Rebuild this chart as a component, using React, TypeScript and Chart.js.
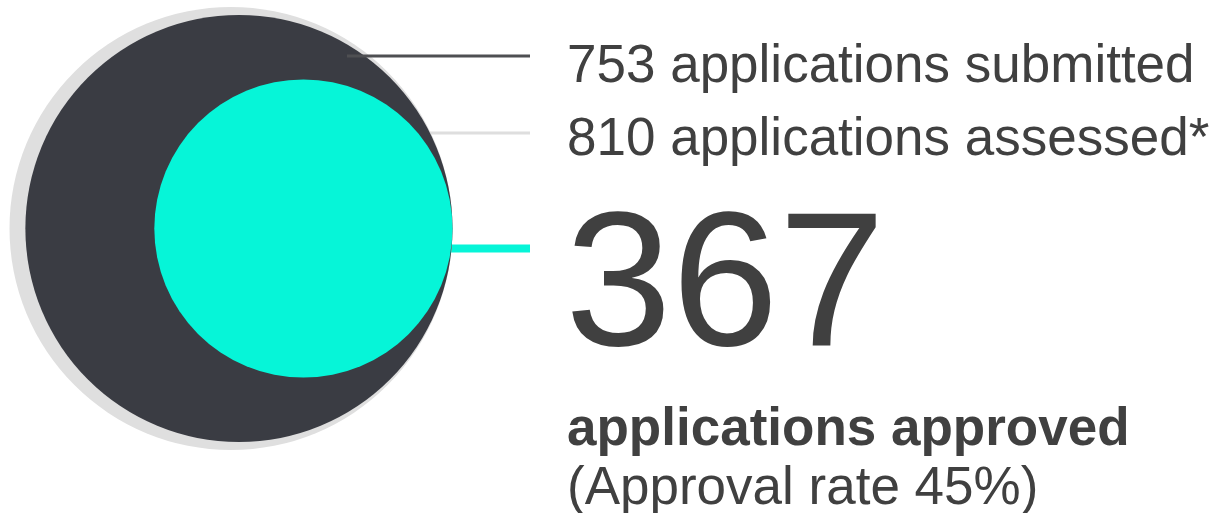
import React, { useEffect, useRef } from "react";
import { Chart, registerables } from "chart.js";

Chart.register(...registerables);

// ---- data ----
const categories = ["applications assessed*", "applications submitted", "applications approved"];
const values = [810, 753, 367];
const colors = ["#dfdfdf", "#3a3c43", "#06f5d8"];
const headline = "367";
const approvedLabel = "applications approved";
const rateLabel = "(Approval rate 45%)";

// ---- layout (pixel scale units) ----
const W = 1220;
const H = 513;
const MAX_RADIUS = 221.5;
const RIGHT_EDGE = 452.5;
const CENTER_Y = 228.5;
const TEXT_X = 567;
const LINE_END_X = 530;
const TEXT_COLOR = "#404040";
const FONT = "'Liberation Sans', Arial, Helvetica, sans-serif";

const maxValue = Math.max(...values);
const radii = values.map((v) => MAX_RADIUS * Math.sqrt(v / maxValue));

const bubbleData = values.map((v, i) => ({
  x: RIGHT_EDGE - radii[i],
  y: CENTER_Y,
  r: radii[i],
}));

const labelsPlugin = {
  id: "labelsPlugin",
  beforeDatasetsDraw(chart: any) {
    const ctx = chart.ctx;
    const xs = chart.scales.x;
    const ys = chart.scales.y;
    ctx.save();
    ctx.lineCap = "butt";
    // assessed leader (light grey)
    ctx.strokeStyle = "#dedede";
    ctx.lineWidth = 3;
    ctx.beginPath();
    ctx.moveTo(xs.getPixelForValue(400), ys.getPixelForValue(133));
    ctx.lineTo(xs.getPixelForValue(LINE_END_X), ys.getPixelForValue(133));
    ctx.stroke();
    // approved leader (cyan)
    ctx.strokeStyle = colors[2];
    ctx.lineWidth = 8;
    ctx.beginPath();
    ctx.moveTo(xs.getPixelForValue(400), ys.getPixelForValue(248.5));
    ctx.lineTo(xs.getPixelForValue(LINE_END_X), ys.getPixelForValue(248.5));
    ctx.stroke();
    ctx.restore();
  },
  afterDatasetsDraw(chart: any) {
    const ctx = chart.ctx;
    const xs = chart.scales.x;
    const ys = chart.scales.y;
    ctx.save();
    // submitted leader (dark)
    ctx.strokeStyle = "#4e4f52";
    ctx.lineWidth = 3;
    ctx.beginPath();
    ctx.moveTo(xs.getPixelForValue(347), ys.getPixelForValue(56));
    ctx.lineTo(xs.getPixelForValue(LINE_END_X), ys.getPixelForValue(56));
    ctx.stroke();

    ctx.fillStyle = TEXT_COLOR;
    ctx.textAlign = "left";
    ctx.textBaseline = "alphabetic";
    ctx.font = `53px ${FONT}`;
    ctx.fillText(`${values[1]} ${categories[1]}`, TEXT_X, 81.5);
    ctx.fillText(`${values[0]} ${categories[0]}`, TEXT_X, 155);
    ctx.font = `192px ${FONT}`;
    ctx.fillText(headline, TEXT_X - 2, 345);
    ctx.font = `bold 53px ${FONT}`;
    ctx.fillText(approvedLabel, TEXT_X, 445);
    ctx.font = `53px ${FONT}`;
    ctx.fillText(rateLabel, TEXT_X, 504);
    ctx.restore();
  },
};

export default function App() {
  const canvasRef = useRef<HTMLCanvasElement | null>(null);

  useEffect(() => {
    if (!canvasRef.current) return;
    const chart = new Chart(canvasRef.current, {
      type: "bubble",
      data: {
        labels: categories,
        datasets: [
          {
            label: "applications",
            data: bubbleData,
            backgroundColor: colors,
            borderWidth: 0,
            hoverBorderWidth: 0,
            hoverRadius: 0,
            clip: false,
          } as any,
        ],
      },
      options: {
        responsive: false,
        animation: false,
        devicePixelRatio: 1,
        events: [],
        layout: { padding: 0, autoPadding: false },
        plugins: {
          legend: { display: false },
          tooltip: { enabled: false },
          title: { display: false },
        },
        scales: {
          x: { type: "linear", display: false, min: 0, max: W },
          y: { type: "linear", display: false, min: 0, max: H, reverse: true },
        },
      },
      plugins: [labelsPlugin],
    });
    return () => chart.destroy();
  }, []);

  return (
    <div style={{ position: "fixed", left: 0, top: 0, width: W, height: H, background: "#ffffff" }}>
      <canvas ref={canvasRef} width={W} height={H} style={{ display: "block" }} />
    </div>
  );
}
